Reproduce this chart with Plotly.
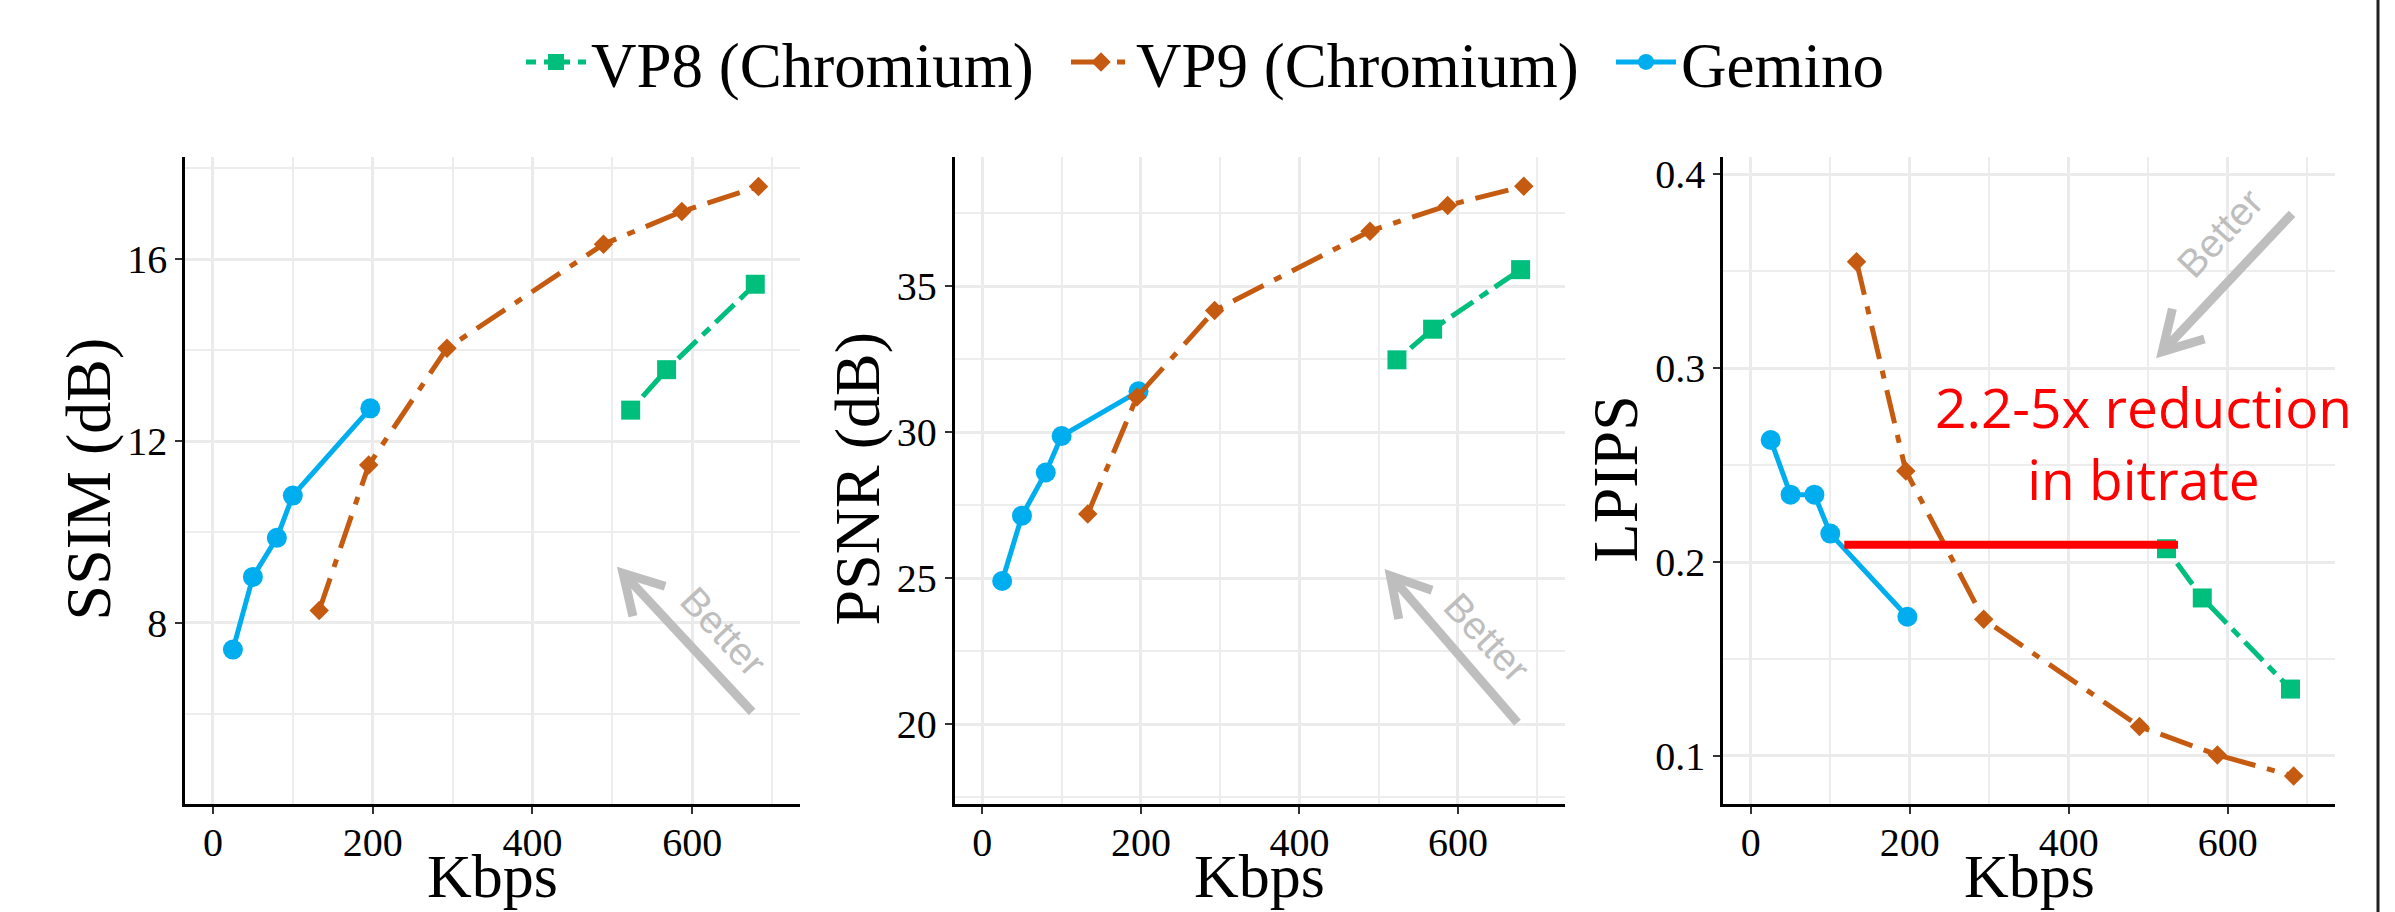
import math
import plotly.graph_objects as go

# ---------------- data ----------------
SERIES = ["VP8 (Chromium)", "VP9 (Chromium)", "Gemino"]

gemino_kbps = [25, 50, 80, 100, 197]
vp9_kbps = [133, 195, 293, 489, 587, 683]
vp8_kbps = [523, 568, 679]

ssim_gemino = [7.41, 9.01, 9.87, 10.80, 12.72]
ssim_vp9 = [8.27, 11.47, 14.04, 16.33, 17.05, 17.60]
ssim_vp8 = [12.68, 13.57, 15.45]

psnr_gemino = [24.90, 27.14, 28.62, 29.87, 31.40]
psnr_vp9 = [27.20, 31.21, 34.17, 36.89, 37.77, 38.43]
psnr_vp8 = [32.48, 33.53, 35.57]

lpips_gemino = [0.263, 0.2348, 0.2348, 0.2147, 0.1718]
lpips_vp9 = [0.355, 0.247, 0.1705, 0.1152, 0.1005, 0.0896]
lpips_vp8 = [0.2069, 0.1815, 0.1345]

y_titles = ["SSIM (dB)", "PSNR (dB)", "LPIPS"]
x_title = "Kbps"

# ---------------- layout constants ----------------
W, H = 2395, 912
X_RANGE = [-35, 735]
Y_RANGES = [[4.013, 18.25], [17.26, 39.43], [0.0752, 0.409]]
Y_DTICK = [4, 5, 0.1]
Y_MINOR = [2, 2.5, 0.05]
PANEL_PX = [(185, 800), (954.6, 1565), (1723, 2335)]
TOP_PX, BOT_PX = 157, 804
YTITLE_X_PX = [88.4, 857.4, 1615.4]

COLORS = {"VP8 (Chromium)": "#00BF7D", "VP9 (Chromium)": "#C55A11", "Gemino": "#00AEEF"}
SYMBOLS = {"VP8 (Chromium)": "square", "VP9 (Chromium)": "diamond", "Gemino": "circle"}
SIZES = {"VP8 (Chromium)": 19, "VP9 (Chromium)": 15, "Gemino": 20}
DASHES = {"VP8 (Chromium)": "10px,8px,26px,8px", "VP9 (Chromium)": "34px,12px,8px,12px", "Gemino": "solid"}
RANK = {"VP8 (Chromium)": 1, "VP9 (Chromium)": 2, "Gemino": 3}

# "Better" arrows: (tail_x, tail_y, tip_x, tip_y), text position and angle
ARROWS = [
    dict(tail=(675, 6.04), tip=(513.5, 9.09), text=(639, 7.80), angle=47),
    dict(tail=(675, 20.05), tip=(514.8, 25.08), text=(636.7, 22.97), angle=47),
    dict(tail=(681, 0.3797), tip=(517.7, 0.3086), text=(589.7, 0.3696), angle=-47),
]
RED_LINE = dict(x0=117.6, x1=537.4, y=0.209)
RED_TEXT = dict(x=493.7, y=0.2615, text="2.2-5x reduction<br>in bitrate")

SERIF = "Liberation Serif"

panels = [
    {"Gemino": (gemino_kbps, ssim_gemino), "VP8 (Chromium)": (vp8_kbps, ssim_vp8), "VP9 (Chromium)": (vp9_kbps, ssim_vp9)},
    {"Gemino": (gemino_kbps, psnr_gemino), "VP8 (Chromium)": (vp8_kbps, psnr_vp8), "VP9 (Chromium)": (vp9_kbps, psnr_vp9)},
    {"Gemino": (gemino_kbps, lpips_gemino), "VP8 (Chromium)": (vp8_kbps, lpips_vp8), "VP9 (Chromium)": (vp9_kbps, lpips_vp9)},
]

fig = go.Figure()
ydom = [1 - BOT_PX / H, 1 - TOP_PX / H]

for i, pdata in enumerate(panels):
    sfx = "" if i == 0 else str(i + 1)
    for name in ["Gemino", "VP8 (Chromium)", "VP9 (Chromium)"]:
        xs, ys = pdata[name]
        fig.add_trace(go.Scatter(
            x=xs, y=ys, name=name, mode="lines+markers",
            xaxis="x" + sfx, yaxis="y" + sfx,
            line=dict(color=COLORS[name], width=5, dash=DASHES[name]),
            marker=dict(symbol=SYMBOLS[name], size=SIZES[name], color=COLORS[name], line=dict(width=0)),
            legendgroup=name, showlegend=(i == 0), legendrank=RANK[name],
        ))
    x0, x1 = PANEL_PX[i]
    common_axis = dict(
        showline=True, linecolor="black", linewidth=2.5, mirror=False,
        ticks="outside", ticklen=7, tickwidth=2, tickcolor="#333333",
        showgrid=True, gridcolor="#EBEBEB", gridwidth=2.5, zeroline=False,
        tickfont=dict(family=SERIF, size=40, color="black"),
        automargin=False,
    )
    fig.update_layout(**{
        "xaxis" + sfx: dict(
            domain=[x0 / W, x1 / W], anchor="y" + sfx, range=X_RANGE,
            tick0=0, dtick=200, ticklabelstandoff=-6,
            minor=dict(dtick=100, tick0=0, showgrid=True, gridcolor="#EDEDED", gridwidth=1.5, ticks=""),
            **common_axis),
        "yaxis" + sfx: dict(
            domain=ydom, anchor="x" + sfx, range=Y_RANGES[i],
            tick0=0, dtick=Y_DTICK[i],
            minor=dict(dtick=Y_MINOR[i], tick0=0, showgrid=True, gridcolor="#EDEDED", gridwidth=1.5, ticks=""),
            **common_axis),
    })
    # axis titles
    fig.add_annotation(xref="paper", yref="paper", x=(x0 + x1) / 2 / W, y=1 - 876 / H,
                       text=x_title, showarrow=False, xanchor="center", yanchor="middle",
                       font=dict(family=SERIF, size=62, color="black"))
    fig.add_annotation(xref="paper", yref="paper", x=YTITLE_X_PX[i] / W, y=1 - 479 / H,
                       text=y_titles[i], showarrow=False, textangle=-90, xanchor="center", yanchor="middle",
                       font=dict(family=SERIF, size=64, color="black"))

    # "Better" arrow (shaft + open head), computed in pixel space
    a = ARROWS[i]
    sx = (x1 - x0) / (X_RANGE[1] - X_RANGE[0])
    sy = (BOT_PX - TOP_PX) / (Y_RANGES[i][1] - Y_RANGES[i][0])
    (tx, ty), (hx, hy) = a["tail"], a["tip"]
    dx, dy = (tx - hx) * sx, (ty - hy) * sy
    L = math.hypot(dx, dy)
    ux, uy = dx / L, dy / L
    arm = 44
    pts = []
    for ang in (math.radians(30), math.radians(-30)):
        rx = ux * math.cos(ang) - uy * math.sin(ang)
        ry = ux * math.sin(ang) + uy * math.cos(ang)
        pts.append((hx + rx * arm / sx, hy + ry * arm / sy))
    xr, yr = "x" + sfx, "y" + sfx
    fig.add_shape(type="line", xref=xr, yref=yr, x0=tx, y0=ty, x1=hx, y1=hy,
                  line=dict(color="#BEBEBE", width=9))
    fig.add_shape(type="path", xref=xr, yref=yr,
                  path=f"M{pts[0][0]},{pts[0][1]} L{hx},{hy} L{pts[1][0]},{pts[1][1]}",
                  line=dict(color="#BEBEBE", width=9))
    fig.add_annotation(xref=xr, yref=yr, x=a["text"][0], y=a["text"][1], text="Better",
                       showarrow=False, textangle=a["angle"],
                       font=dict(family="Liberation Sans", size=39, color="#BEBEBE"))

# red bitrate-reduction line and label (LPIPS panel)
fig.add_shape(type="line", xref="x3", yref="y3", x0=RED_LINE["x0"], x1=RED_LINE["x1"],
              y0=RED_LINE["y"], y1=RED_LINE["y"], line=dict(color="#FF0000", width=8))
fig.add_annotation(xref="x3", yref="y3", x=RED_TEXT["x"], y=RED_TEXT["y"], text=RED_TEXT["text"],
                   showarrow=False, align="center", xanchor="center", yanchor="middle",
                   font=dict(family="Open Sans", size=55, color="#FF0000"))

# right border line
fig.add_shape(type="line", xref="paper", yref="paper", x0=2378 / W, x1=2378 / W, y0=0, y1=1,
              line=dict(color="#222222", width=3))

fig.update_layout(
    width=W, height=H, margin=dict(l=0, r=0, t=0, b=0, autoexpand=False),
    paper_bgcolor="white", plot_bgcolor="white",
    font=dict(family=SERIF, color="black"),
    showlegend=True,
    legend=dict(orientation="h", x=521 / W, xanchor="left", y=1 - 62 / H, yanchor="middle",
                font=dict(family=SERIF, size=63, color="black"),
                itemwidth=60, entrywidth=470, entrywidthmode="pixels",
                bgcolor="rgba(0,0,0,0)", traceorder="normal"),
)

fig.write_html(
    "out.html",
    config={"displayModeBar": False},
    post_script="document.body.style.margin='0';document.body.style.padding='0';"
                "document.body.style.overflow='hidden';",
)
